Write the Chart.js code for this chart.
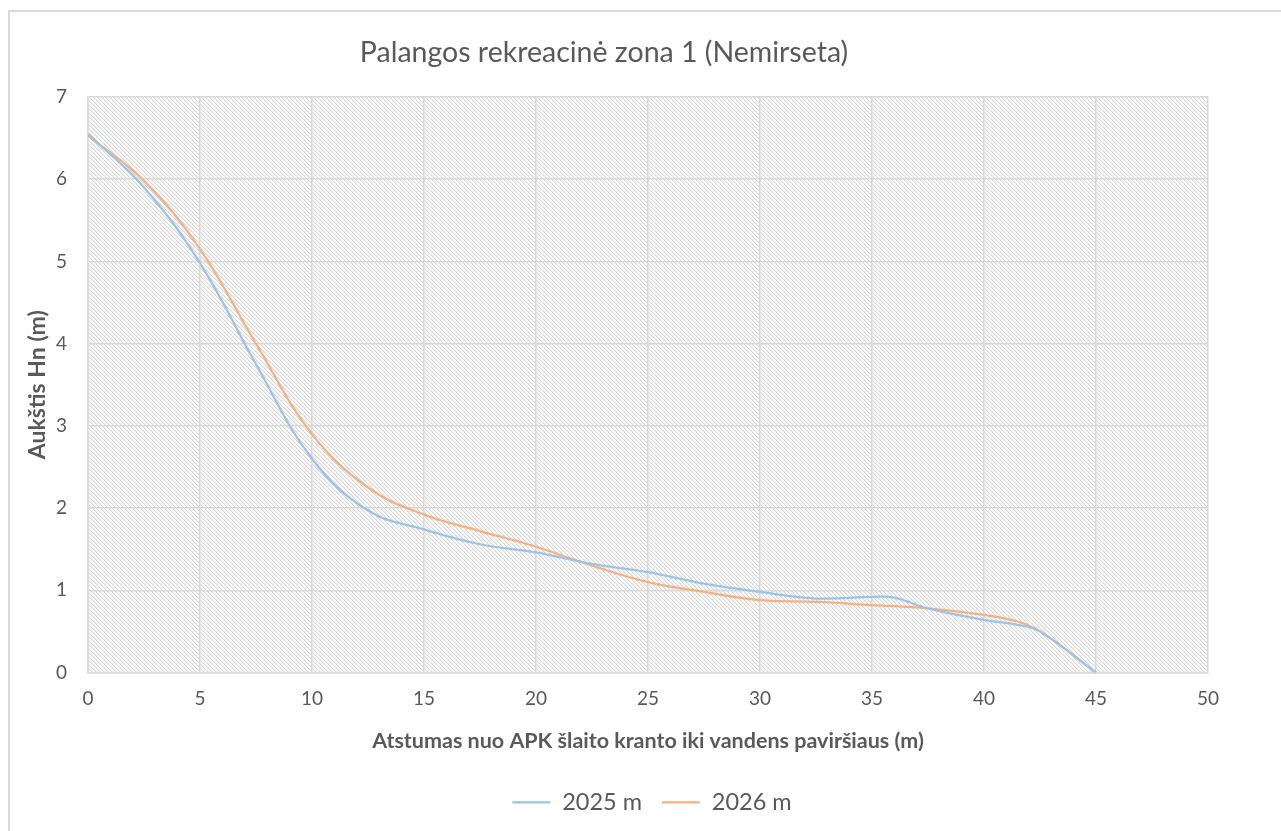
<!DOCTYPE html>
<html>
<head>
<meta charset="utf-8">
<script src="https://cdn.jsdelivr.net/npm/chart.js@4.4.1/dist/chart.umd.min.js"></script>
<style>
  html, body { margin: 0; padding: 0; background: #ffffff; overflow: hidden; }
  #wrap { position: relative; width: 1281px; height: 831px; }
  #frame { position: absolute; left: 8px; top: 10px; width: 1400px; height: 1000px; border: 2px solid #d9d9d9; box-sizing: border-box; }
  #c { position: absolute; left: 0; top: 0; }
</style>
</head>
<body>
<div id="wrap">
  <div id="frame"></div>
  <canvas id="c" width="1281" height="831"></canvas>
</div>
<script>
// ---- data ----
const chartTitle = 'Palangos rekreacinė zona 1 (Nemirseta)';
const xAxisTitle = 'Atstumas nuo APK šlaito kranto iki vandens paviršiaus (m)';
const yAxisTitle = 'Aukštis Hn (m)';
const seriesNames = ['2025 m', '2026 m'];

const distance2025 = [0, 2.5, 5, 7.5, 10, 12.5, 15, 17.5, 20, 22.5, 25, 27.5, 30, 32.5, 35, 36, 37.5, 40, 41.5, 42.5, 45];
const height2025   = [6.55, 5.9, 4.98, 3.75, 2.6, 1.97, 1.74, 1.56, 1.46, 1.32, 1.22, 1.08, 0.98, 0.9, 0.92, 0.91, 0.78, 0.64, 0.58, 0.5, 0];

const distance2026 = [0, 2.5, 5, 7.5, 10, 12.5, 15, 17.5, 20, 22.5, 25, 27.5, 30, 32.5, 35, 37.5, 40, 41.5, 42.5, 45];
const height2026   = [6.53, 5.98, 5.15, 4.0, 2.9, 2.25, 1.92, 1.72, 1.53, 1.3, 1.1, 0.98, 0.88, 0.86, 0.82, 0.78, 0.70, 0.62, 0.5, 0];

const xTickStep = 5, xMin = 0, xMax = 50;
const yTickStep = 1, yMin = 0, yMax = 7;

// ---- helpers ----
function toPoints(xs, ys) { return xs.map((x, i) => ({ x: x, y: ys[i] })); }

const FONT = 'Lato, "Open Sans", sans-serif';
const TEXT = '#595959';
const GRID = '#d9d9d9';

function makeHatch() {
  const p = document.createElement('canvas');
  p.width = 4; p.height = 4;
  const g = p.getContext('2d');
  g.fillStyle = '#ffffff';
  g.fillRect(0, 0, 4, 4);
  for (let i = 0; i < 4; i++) {
    g.fillStyle = '#d6d6d6';
    g.fillRect(i, i, 1, 1);
    g.fillStyle = '#eeeeee';
    g.fillRect((i + 1) % 4, i, 1, 1);
  }
  return p;
}

const hatchPlugin = {
  id: 'hatch',
  beforeDraw(chart) {
    const { ctx, chartArea: a } = chart;
    ctx.save();
    ctx.fillStyle = ctx.createPattern(makeHatch(), 'repeat');
    ctx.fillRect(a.left, a.top, a.right - a.left, a.bottom - a.top);
    ctx.restore();
  }
};

// centre the legend under the plot area rather than the whole canvas
const legendCenterPlugin = {
  id: 'legendCenter',
  afterLayout(chart) {
    const lg = chart.legend;
    if (!lg) return;
    const a = chart.chartArea;
    const shift = (a.left + a.right) / 2 - (lg.left + lg.right) / 2 + 4;
    lg.left += shift;
    lg.right += shift;
  }
};

new Chart(document.getElementById('c'), {
  type: 'scatter',
  data: {
    datasets: [
      {
        label: seriesNames[0],
        data: toPoints(distance2025, height2025),
        showLine: true,
        borderColor: '#9dc3e6',
        backgroundColor: '#9dc3e6',
        borderWidth: 2.25,
        pointRadius: 0,
        pointHoverRadius: 0,
        tension: 0.4,
        pointStyle: 'line'
      },
      {
        label: seriesNames[1],
        data: toPoints(distance2026, height2026),
        showLine: true,
        borderColor: '#f4b183',
        backgroundColor: '#f4b183',
        borderWidth: 2.25,
        pointRadius: 0,
        pointHoverRadius: 0,
        tension: 0.4,
        pointStyle: 'line'
      }
    ]
  },
  options: {
    responsive: false,
    animation: false,
    layout: { padding: { left: 0, right: 73, top: 0, bottom: 7 } },
    plugins: {
      tooltip: { enabled: false },
      title: {
        display: true,
        text: chartTitle,
        color: TEXT,
        font: { family: FONT, size: 28.5, weight: 'normal' },
        padding: { top: 36, bottom: 26.8 }
      },
      legend: {
        position: 'bottom',
        labels: {
          color: TEXT,
          font: { family: FONT, size: 23.5 },
          usePointStyle: true,
          pointStyle: 'line',
          pointStyleWidth: 38,
          padding: 20
        }
      }
    },
    scales: {
      x: {
        type: 'linear',
        min: xMin, max: xMax,
        ticks: { stepSize: xTickStep, color: TEXT, font: { family: FONT, size: 19 }, padding: 15 },
        grid: { color: GRID, lineWidth: 1.5, drawTicks: false },
        border: { color: GRID, width: 1.5 },
        title: {
          display: true,
          text: xAxisTitle,
          color: TEXT,
          font: { family: FONT, size: 21.5, weight: 'bold' },
          padding: { top: 0, bottom: 17 }
        },
        afterFit(scale) { scale.height = 98; }
      },
      y: {
        min: yMin, max: yMax,
        ticks: { stepSize: yTickStep, color: TEXT, font: { family: FONT, size: 19 }, padding: 21 },
        grid: { color: GRID, lineWidth: 1.5, drawTicks: false },
        border: { color: GRID, width: 1.5 },
        title: {
          display: true,
          text: yAxisTitle,
          color: TEXT,
          font: { family: FONT, size: 23, weight: 'bold' },
          padding: { top: 24, bottom: 0 }
        },
        afterFit(scale) { scale.width = 88; }
      }
    }
  },
  plugins: [hatchPlugin, legendCenterPlugin]
});
</script>
</body>
</html>
